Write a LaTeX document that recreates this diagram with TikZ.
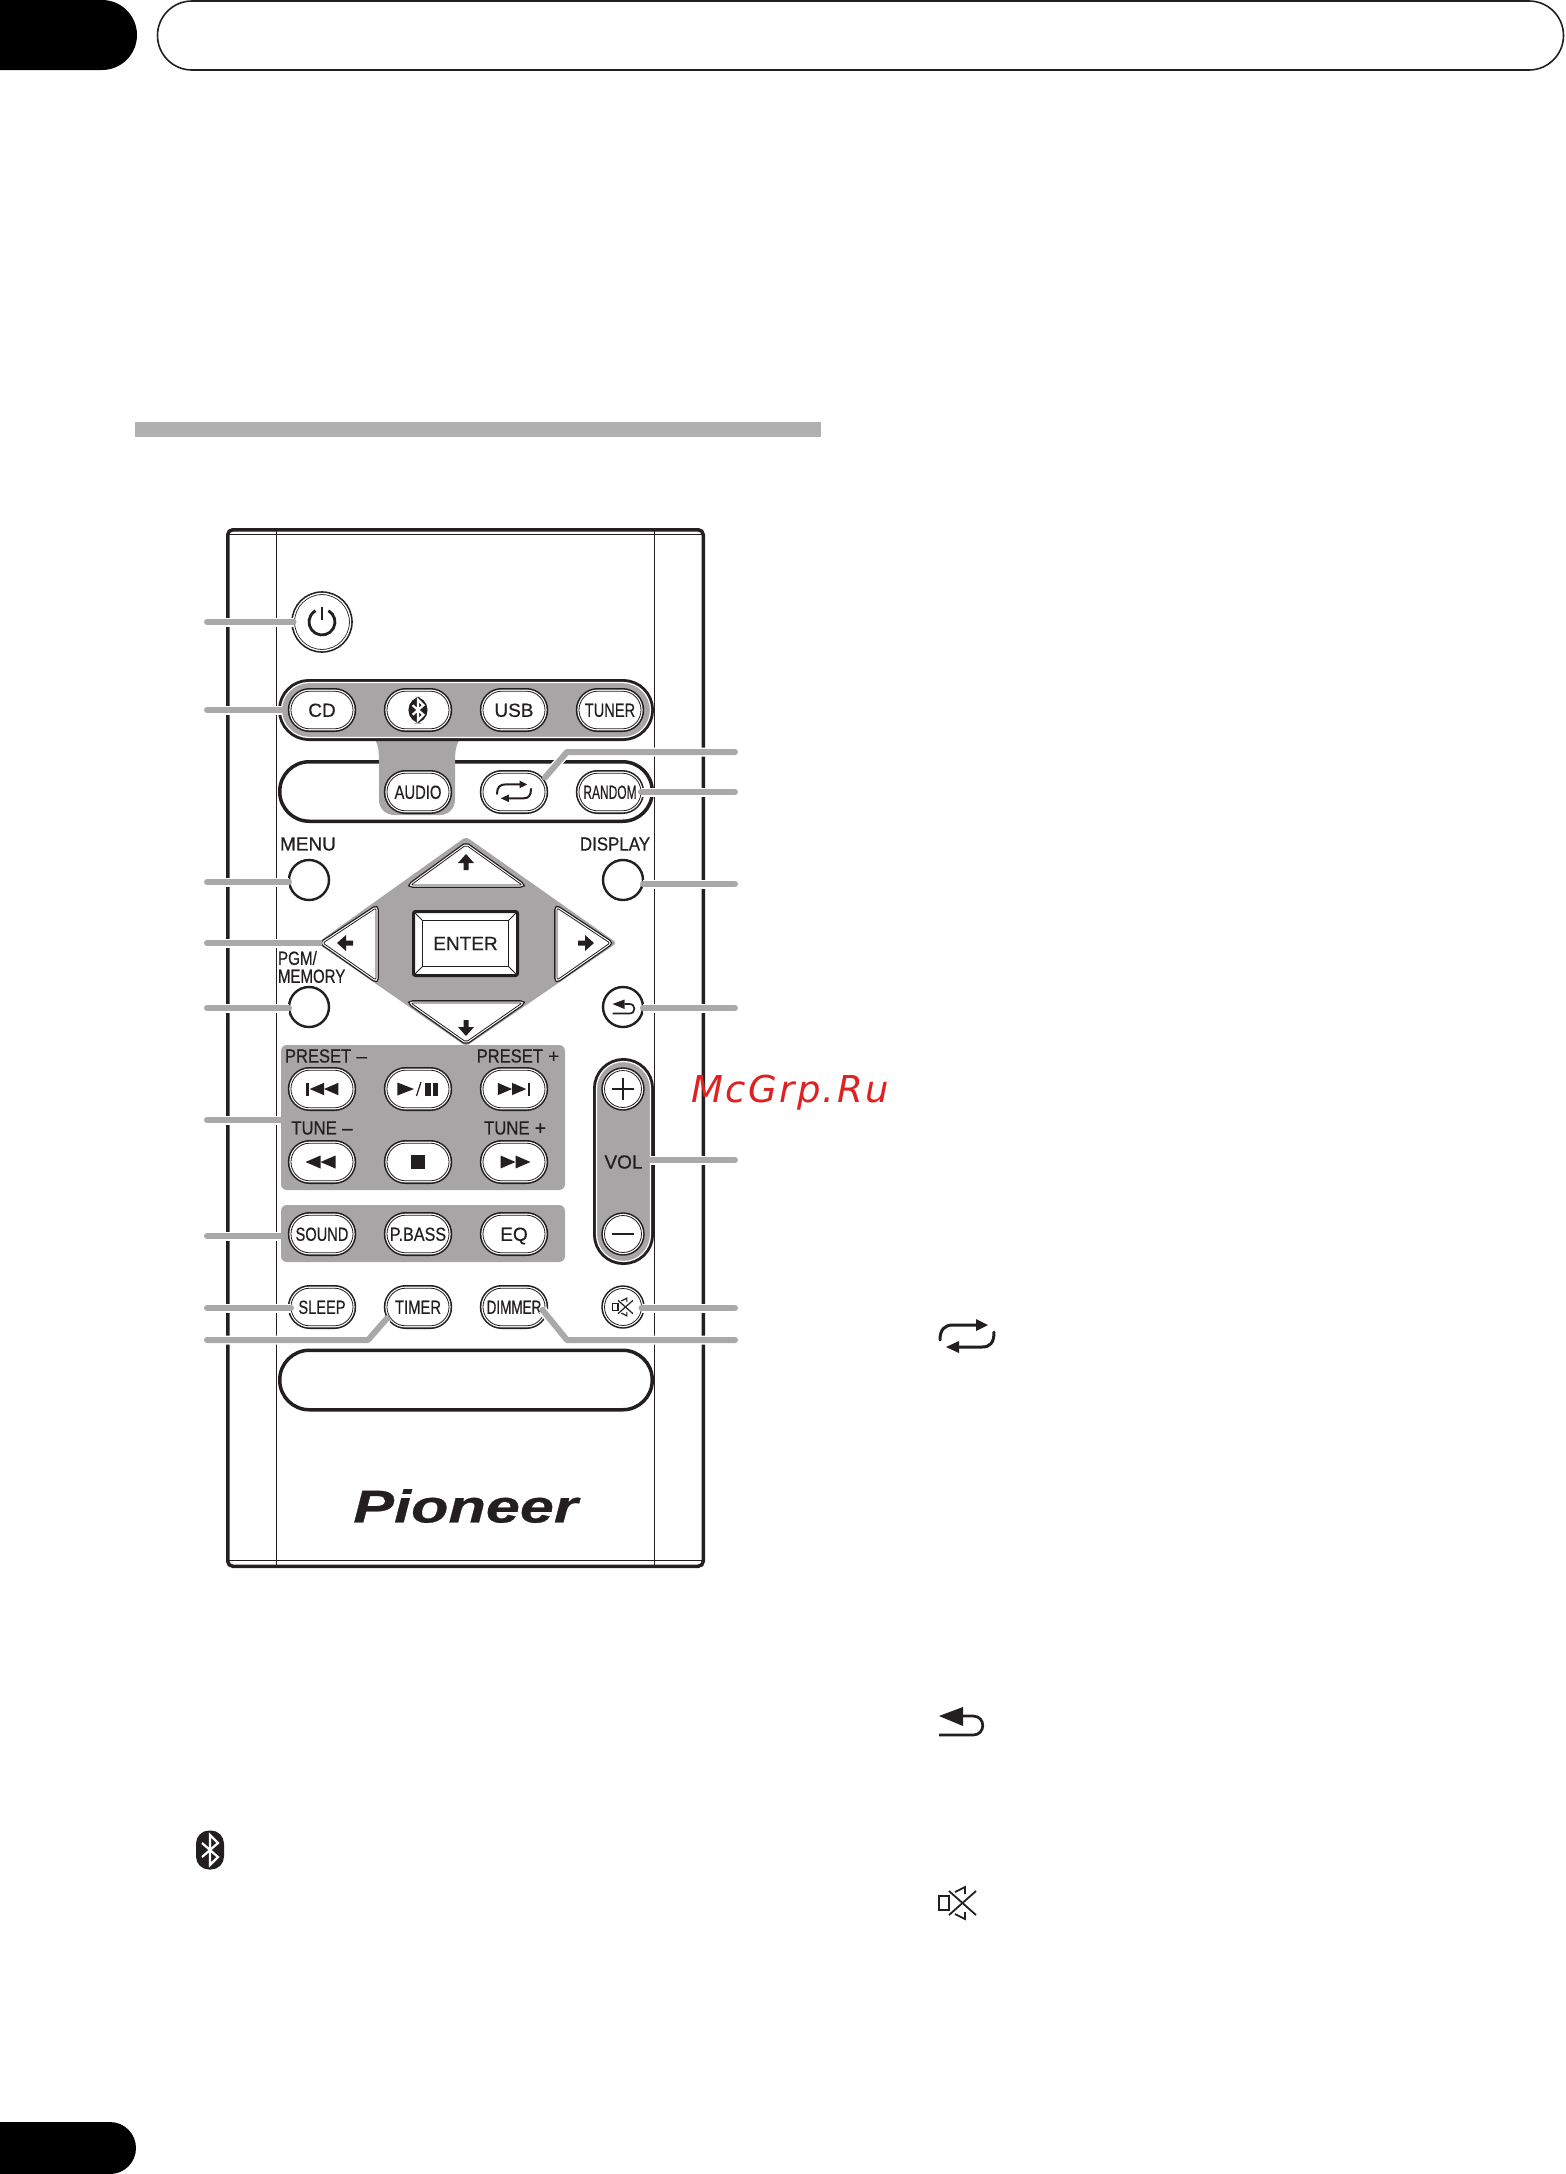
\documentclass[tikz,border=0pt]{standalone}
\usepackage{fontspec}
\setmainfont[FakeBold=0.5]{Liberation Sans}
\newfontfamily\markfont[LetterSpace=6.5]{DejaVu Sans}
\usetikzlibrary{positioning}

\definecolor{keyblack}{HTML}{231F20}
\definecolor{groupgray}{HTML}{A7A5A6}
\definecolor{leadgray}{HTML}{A9A9A9}
\definecolor{markred}{HTML}{DE2222}

\newcommand{\sqz}[2]{\scalebox{#1}[1]{#2}}

\tikzset{
    pillkey/.style={rectangle,draw=keyblack,line width=.8pt,minimum width=62pt,minimum height=37.6pt,
        text height=13.6pt,text depth=0pt,
        inner sep=0pt,outer sep=0pt,rounded corners=18.7pt,
        preaction={draw=keyblack,line width=6.4pt},
        preaction={draw=white,fill=white,line width=3.2pt}},
    ringkey/.style={circle,draw=keyblack,line width=.8pt,minimum size=37pt,inner sep=0pt,outer sep=0pt,
        preaction={draw=keyblack,line width=6.4pt},
        preaction={draw=white,fill=white,line width=3.2pt}},
    plainkey/.style={circle,draw=keyblack,fill=white,line width=2.4pt,minimum size=40pt,inner sep=0pt,outer sep=0pt},
    padkey/.style={draw=keyblack,line width=.8pt,rounded corners=2pt,line join=round,
        preaction={draw=keyblack,line width=5.6pt},
        preaction={draw=white,fill=white,line width=3pt}},
    bandplain/.style={rectangle,draw=keyblack,line width=3.5pt,minimum width=372.5pt,minimum height=59.5pt,
        rounded corners=29.5pt,inner sep=0pt,outer sep=0pt},
    bandgray/.style={rectangle,draw=white,fill=groupgray,line width=1.2pt,inner sep=0pt,outer sep=0pt,
        preaction={draw=keyblack,line width=7pt}},
    groupbox/.style={rectangle,fill=groupgray,minimum width=284pt,rounded corners=6pt,inner sep=0pt,outer sep=0pt},
    leader/.style={draw=leadgray,line width=6pt,line cap=round,line join=round,
        preaction={draw=white,line width=9pt}},
    label/.style={inner sep=0pt,outer sep=0pt,text=keyblack},
    every node/.append style={font=\fontsize{19}{18}\selectfont,text=keyblack},
    btsym/.pic={
        \fill[keyblack,rounded corners=13pt] (-14,-19.5) rectangle (14,19.5);
        \draw[white,line width=2.2pt,line join=miter] (-8,-7) -- (8,7) -- (0,15) -- (0,-15) -- (8,-7) -- (-8,7);
    },
    loopsym/.pic={
        \draw[keyblack,line cap=round] (-27,3) .. controls (-27,-8) and (-22,-12) .. (-14,-12) -- (10,-12);
        \fill[keyblack] (9,-18) -- (21,-12) -- (9,-6) -- cycle;
        \draw[keyblack,line cap=round] (27,-5) .. controls (27,6) and (23,10) .. (15,10) -- (-8,10);
        \fill[keyblack] (-8,4) -- (-21,10) -- (-8,16) -- cycle;
    },
    backsym/.pic={
        \draw[keyblack] (3,-6) -- (13,-6) .. controls (26,-6) and (26,13) .. (13,13) -- (-21,13);
        \fill[keyblack] (-21,-6) -- (3,-15) -- (3,4) -- cycle;
    },
    mutesym/.pic={
        \draw[keyblack] (-19,-7) rectangle (-9,7);
        \draw[keyblack] (-3,-11) -- (7,-16) -- (7,-9);
        \draw[keyblack] (-3,11) -- (7,16) -- (7,9);
        \draw[keyblack] (-9,-12) -- (18,12);
        \draw[keyblack] (18,-12) -- (-9,12);
    },
    padarrow/.pic={
        \fill[keyblack] (0,-9) -- (8,0) -- (2.5,0) -- (2.5,7) -- (-2.5,7) -- (-2.5,0) -- (-8,0) -- cycle;
    },
    backward/.pic={
        \fill[keyblack] (-15,0) -- (0,-6.5) -- (0,6.5) -- cycle;
        \fill[keyblack] (0,0) -- (15,-6.5) -- (15,6.5) -- cycle;
    },
    forward/.pic={
        \fill[keyblack] (15,0) -- (0,-6.5) -- (0,6.5) -- cycle;
        \fill[keyblack] (0,0) -- (-15,-6.5) -- (-15,6.5) -- cycle;
    }
}

\begin{document}
\begin{tikzpicture}[x=1pt,y=-1pt,node distance=34pt]
    \useasboundingbox[fill=white] (0,0) rectangle (1566,2174);

    % page furniture
    \fill[black] (0,0) -- (102,0) arc[start angle=-90,end angle=90,radius=35] -- (0,70) -- cycle;
    \draw[keyblack,line width=1.6pt] (192,1) -- (1529,1) arc[start angle=-90,end angle=90,radius=34.5] -- (192,70) arc[start angle=90,end angle=270,radius=34.5];
    \fill[black] (0,2122) -- (110,2122) arc[start angle=-90,end angle=90,radius=26] -- (0,2174) -- cycle;
    \fill[black!31] (135,422) rectangle (821,437);

    % remote body
    \node[draw=keyblack,fill=white,line width=3.5pt,minimum width=475.5pt,minimum height=1036.5pt,rounded corners=5pt,inner sep=0pt,outer sep=0pt] (body) at (465.5,1048) {};
    \draw[keyblack,line width=.8pt] ([xshift=49pt]body.north west) -- ([xshift=49pt]body.south west);
    \draw[keyblack,line width=.8pt] ([xshift=-49pt]body.north east) -- ([xshift=-49pt]body.south east);
    \draw[keyblack,line width=.8pt] ([yshift=-5pt]body.north west) -- ([yshift=-5pt]body.north east);
    \draw[keyblack,line width=.8pt] ([yshift=6pt]body.south west) -- ([yshift=6pt]body.south east);

    % bands and gray groups
    \node[bandplain] (modeband) at (466,791.5) {};
    \fill[groupgray] (373,736) .. controls (379,745) and (379,752) .. (379,765) -- (379,800) arc[start angle=180,end angle=90,radius=15] -- (440,815) arc[start angle=90,end angle=0,radius=15] -- (455,765) .. controls (455,752) and (455,745) .. (462,736) -- cycle;
    \node[bandgray,minimum width=369pt,minimum height=55pt,rounded corners=27.5pt] (srcband) at (466,710) {};
    \node[bandplain] (dispband) at (466,1380) {};
    \node[bandgray,minimum width=54pt,minimum height=200pt,rounded corners=27pt] (volband) at (623.5,1161.5) {};
    \fill[groupgray,draw=white,line width=1pt,rounded corners=4pt] (316,943) -- (466,836) -- (618,943) -- (466,1047) -- cycle;
    \node[groupbox,minimum height=145pt] (transport) at (423,1117.5) {};
    \node[groupbox,minimum height=57pt] (soundbox) at (423,1233.5) {};

    % power
    \node[circle,draw=keyblack,line width=.8pt,double=white,double distance=1.3pt,fill=white,minimum size=57pt,inner sep=0pt,outer sep=0pt,preaction={draw=keyblack,line width=4.6pt}] (power) at (322,622) {};
    \draw[keyblack,line width=2.8pt] ([shift={(6.5,-11.3)}]power.center) arc[start angle=-60,end angle=240,radius=13];
    \draw[keyblack,line width=2.8pt] ([yshift=2pt]power.center) -- ([yshift=15pt]power.center);

    % source row
    \node[pillkey] (cd) at (322,710) {CD};
    \node[pillkey,right=of cd] (bluetooth) {};
    \node[pillkey,right=of bluetooth] (usb) {USB};
    \node[pillkey,right=of usb] (tuner) {\sqz{.77}{TUNER}};
    \pic[scale=.68] at (bluetooth) {btsym};

    % mode row
    \node[pillkey] (audio) at (418,792) {\sqz{.78}{AUDIO}};
    \node[pillkey,right=of audio] (repeat) {};
    \node[pillkey,right=of repeat] (random) {\sqz{.63}{RANDOM}};
    \pic[scale=.63,line width=2pt] at (repeat) {loopsym};

    % menu and display
    \node[plainkey] (menu) at (309,880) {};
    \node[label] (menutext) at (308,844) {MENU};
    \node[plainkey] (display) at (623,880) {};
    \node[label] (disptext) at (615,844) {\sqz{.89}{DISPLAY}};
    \node[plainkey] (memory) at (309,1007) {};
    \node[label,align=left,anchor=west] (memtext) at (278,967) {\sqz{.8}{PGM/}\\\sqz{.79}{MEMORY}};
    \node[plainkey] (back) at (623,1007) {};
    \pic[scale=.5,line width=1.7pt] at (back) {backsym};

    % direction pad
    \path[padkey] (411,885) -- (466,845) -- (522,885) -- cycle;
    \path[padkey] (411,1003) -- (466,1042) -- (522,1003) -- cycle;
    \path[padkey] (323,943) -- (376,908) -- (376,980) -- cycle;
    \path[padkey] (610,943) -- (557,908) -- (557,980) -- cycle;
    \coordinate (padleft) at (320,943);
    \pic at (466,863) {padarrow};
    \pic[rotate=180] at (466,1027) {padarrow};
    \pic[rotate=90] at (346,943) {padarrow};
    \pic[rotate=-90] at (585,943) {padarrow};
    \node[draw=keyblack,fill=white,line width=3pt,minimum width=104pt,minimum height=64pt,rounded corners=2pt,inner sep=0pt,outer sep=0pt] (enter) at (465.5,943.5) {ENTER};
    \draw[keyblack,line width=.8pt] ([shift={(9,9)}]enter.north west) rectangle ([shift={(-9,-9)}]enter.south east);
    \draw[keyblack,line width=.8pt] (enter.north west) -- ([shift={(9,9)}]enter.north west);
    \draw[keyblack,line width=.8pt] (enter.north east) -- ([shift={(-9,9)}]enter.north east);
    \draw[keyblack,line width=.8pt] (enter.south west) -- ([shift={(9,-9)}]enter.south west);
    \draw[keyblack,line width=.8pt] (enter.south east) -- ([shift={(-9,-9)}]enter.south east);

    % transport keys
    \node[pillkey] (prev) at (322,1089) {};
    \node[pillkey,right=of prev] (play) {};
    \node[pillkey,right=of play] (next) {};
    \node[pillkey] (rewind) at (322,1162) {};
    \node[pillkey,right=of rewind] (stop) {};
    \node[pillkey,right=of stop] (ffwd) {};
    \node[label] (presetdown) at (326,1056) {\sqz{.87}{PRESET} --};
    \node[label] (presetup) at (518,1056) {\sqz{.87}{PRESET} +};
    \node[label] (tunedown) at (322,1128) {\sqz{.88}{TUNE} --};
    \node[label] (tuneup) at (515,1128) {\sqz{.88}{TUNE} +};
    \pic[scale=.95] at ([xshift=2pt]prev.center) {backward};
    \fill[keyblack] ([shift={(-16,-6.5)}]prev.center) rectangle ([shift={(-13.5,6.5)}]prev.center);
    \pic[scale=.95] at ([xshift=-2pt]next.center) {forward};
    \fill[keyblack] ([shift={(13.5,-6.5)}]next.center) rectangle ([shift={(16,6.5)}]next.center);
    \fill[keyblack] ([shift={(-20.7,-6.5)}]play.center) -- ([shift={(-4,0)}]play.center) -- ([shift={(-20.7,6.5)}]play.center) -- cycle;
    \draw[keyblack,line width=1.2pt] ([shift={(3,-7)}]play.center) -- ([shift={(-1.5,7)}]play.center);
    \fill[keyblack] ([shift={(7,-6.5)}]play.center) rectangle ([shift={(12.5,6.5)}]play.center);
    \fill[keyblack] ([shift={(14.5,-6.5)}]play.center) rectangle ([shift={(20,6.5)}]play.center);
    \pic at ([xshift=-1.5pt]rewind.center) {backward};
    \pic at ([xshift=1.5pt]ffwd.center) {forward};
    \fill[keyblack] ([shift={(-7,-7)}]stop.center) rectangle ([shift={(7,7)}]stop.center);

    % sound keys
    \node[pillkey] (sound) at (322,1234) {\sqz{.77}{SOUND}};
    \node[pillkey,right=of sound] (pbass) {\sqz{.85}{P.BASS}};
    \node[pillkey,right=of pbass] (eq) {EQ};

    % bottom keys
    \node[pillkey] (sleep) at (322,1307) {\sqz{.77}{SLEEP}};
    \node[pillkey,right=of sleep] (timer) {\sqz{.78}{TIMER}};
    \node[pillkey,right=of timer] (dimmer) {\sqz{.71}{DIMMER}};
    \node[ringkey] (mute) at (623,1307) {};
    \pic[scale=.55,line width=1.2pt] at (mute) {mutesym};

    % volume
    \node[ringkey] (volup) at (623,1089) {};
    \node[ringkey] (voldown) at (623,1234) {};
    \draw[keyblack,line width=2.8pt] ([xshift=-11pt]volup.center) -- ([xshift=11pt]volup.center);
    \draw[keyblack,line width=2.8pt] ([yshift=-11pt]volup.center) -- ([yshift=11pt]volup.center);
    \draw[keyblack,line width=2.8pt] ([xshift=-11pt]voldown.center) -- ([xshift=11pt]voldown.center);
    \node[label] (voltext) at (623.5,1162) {VOL};

    % logo
    \node[label] (logo) at (465.5,1506) {\fontsize{46}{46}\selectfont\bfseries\itshape\sqz{1.33}{Pioneer}};

    % left leaders
    \coordinate (lpower) at (207,622);
    \coordinate (lsource) at (207,710);
    \coordinate (lmenu) at (207,882);
    \coordinate (lpad) at (207,943);
    \coordinate (lmemory) at (207,1008);
    \coordinate (ltransport) at (207,1120);
    \coordinate (lsound) at (207,1236);
    \coordinate (lsleep) at (207,1308);
    \coordinate (ltimer) at (207,1340);
    \coordinate (timerbend) at (368,1340);
    \draw[leader] (lpower) -- (lpower -| power.west);
    \draw[leader] (lsource) -- (lsource -| srcband.west);
    \draw[leader] (lmenu) -- (lmenu -| menu.west);
    \draw[leader] (lpad) -- (padleft);
    \draw[leader] (lmemory) -- (lmemory -| memory.west);
    \draw[leader] (ltransport) -- (ltransport -| transport.west);
    \draw[leader] (lsound) -- (lsound -| soundbox.west);
    \draw[leader] (lsleep) -- (lsleep -| sleep.west);
    \draw[leader] (ltimer) -- (timerbend) -- (timer.200);

    % right leaders
    \coordinate (rrepeat) at (735,752);
    \coordinate (repeatbend) at (567,752);
    \coordinate (rrandom) at (735,792);
    \coordinate (rdisplay) at (735,884);
    \coordinate (rback) at (735,1008);
    \coordinate (rvol) at (735,1160);
    \coordinate (rmute) at (735,1308);
    \coordinate (rdimmer) at (735,1340);
    \coordinate (dimmerbend) at (567,1340);
    \draw[leader] (rrepeat) -- (repeatbend) -- (repeat.25);
    \draw[leader] (rrandom) -- (rrandom -| random.east);
    \draw[leader] (rdisplay) -- (rdisplay -| display.east);
    \draw[leader] (rback) -- (rback -| back.east);
    \draw[leader] (rvol) -- (rvol -| volband.east);
    \draw[leader] (rmute) -- (rmute -| mute.east);
    \draw[leader,shorten >=-4pt] (rdimmer) -- (dimmerbend) -- (dimmer.349);

    % symbols in the text column
    \pic[line width=3pt] at (967,1337) {loopsym};
    \pic[line width=2.7pt] at (960,1722) {backsym};
    \pic[line width=1.8pt] at (958,1903) {mutesym};
    \pic at (210,1850) {btsym};

    % site mark
    \node[inner sep=0pt,anchor=base,text=markred] (sitemark) at (790,1102) {\fontsize{37}{37}\selectfont\markfont\itshape McGrp.Ru};
\end{tikzpicture}
\end{document}
